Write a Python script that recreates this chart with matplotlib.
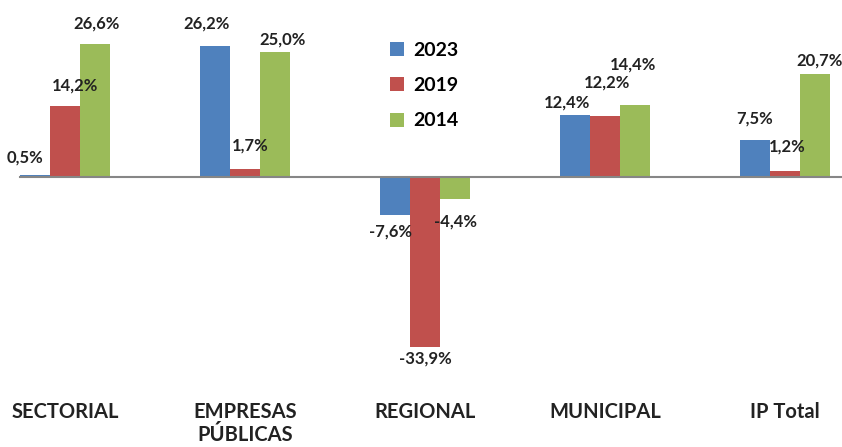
import numpy as np
import matplotlib
matplotlib.use("Agg")
import matplotlib.pyplot as plt

# values (%)
categories = ["SECTORIAL", "EMPRESAS\nPÚBLICAS", "REGIONAL", "MUNICIPAL", "IP Total"]
years = ["2023", "2019", "2014"]
v2023 = [0.5, 26.2, -7.6, 12.4, 7.5]
v2019 = [14.2, 1.7, -33.9, 12.2, 1.2]
v2014 = [26.6, 25.0, -4.4, 14.4, 20.7]
labels2023 = ["0,5%", "26,2%", "-7,6%", "12,4%", "7,5%"]
labels2019 = ["14,2%", "1,7%", "-33,9%", "12,2%", "1,2%"]
labels2014 = ["26,6%", "25,0%", "-4,4%", "14,4%", "20,7%"]

colors = ["#4F81BD", "#C0504D", "#9BBB59"]
# label offsets in pixels (dx, dy) from bar end, as Excel placed them
offs = [
    [(-10, 17), (-8, 22), (-5, -17), (-8, 12), (0, 21)],
    [(10, 20), (5, 23), (0, -12), (2, 33), (2, 24)],
    [(2, 20), (8, 12), (0, -23), (-2, 40), (5, 13)],
]

plt.rcParams['font.family'] = ['Lato', 'DejaVu Sans']
plt.rcParams['font.weight'] = 'bold'

fig = plt.figure(figsize=(8.42, 4.47), dpi=100)
ax = fig.add_axes([0, 67 / 447, 1, 380 / 447])

x = np.arange(len(categories))
w = 1 / 6
series = [v2023, v2019, v2014]
texts = [labels2023, labels2019, labels2014]
for i, (vals, labs) in enumerate(zip(series, texts)):
    pos = x + (i - 1) * w
    ax.bar(pos, vals, width=w, color=colors[i], label=years[i], zorder=2)
    for p, v, t, (dx, dy) in zip(pos, vals, labs, offs[i]):
        ax.annotate(t, (p, v), xytext=(dx, dy), textcoords='offset pixels',
                    ha='center', va='center', fontsize=12, fontweight='bold',
                    color='#222222')

ax.plot([-0.25, 4.4], [0, 0], color='#868686', linewidth=1.5, zorder=3)

ax.set_xlim(-65 / 180, (842 - 65) / 180)
ax.set_ylim(-40.6, 35.4)
ax.set_xticks(x)
ax.set_xticklabels(categories, fontsize=14.5, fontweight='bold', color='#222222')
ax.tick_params(axis='x', length=0, pad=16)
ax.set_yticks([])
for s in ax.spines.values():
    s.set_visible(False)

ax.legend(loc='upper left', bbox_to_anchor=(372 / 842, 1 - 24 / 447),
          bbox_transform=fig.transFigure, frameon=False,
          prop={'size': 14, 'weight': 'bold'}, handlelength=0.75,
          handleheight=0.75, handletextpad=0.45, labelspacing=0.95)

fig.savefig("out.png", dpi=100)
